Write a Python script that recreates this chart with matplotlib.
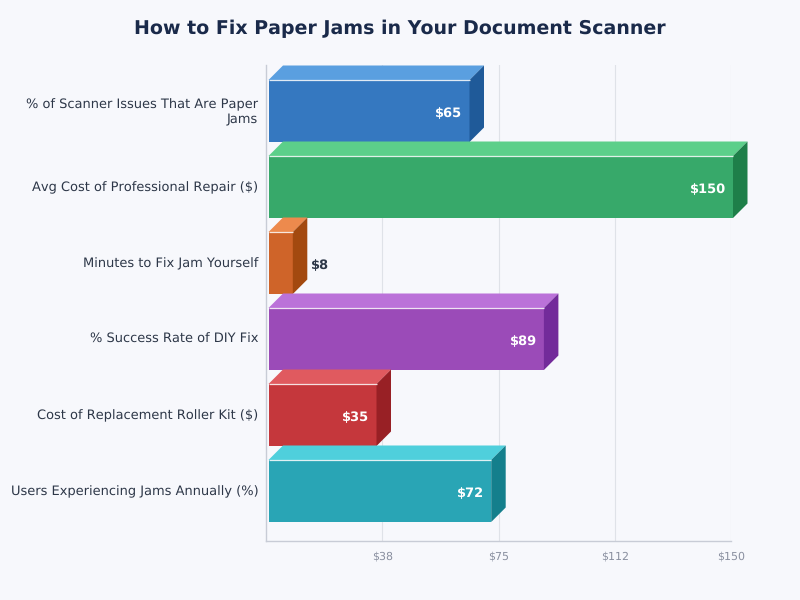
import matplotlib
matplotlib.use("Agg")
import matplotlib.pyplot as plt
from matplotlib.patches import Polygon
from matplotlib.transforms import ScaledTranslation

plt.rcParams["text.hinting"] = "no_hinting"
plt.rcParams["text.hinting_factor"] = 1

categories = [
    "% of Scanner Issues That Are Paper\nJams",
    "Avg Cost of Professional Repair ($)",
    "Minutes to Fix Jam Yourself",
    "% Success Rate of DIY Fix",
    "Cost of Replacement Roller Kit ($)",
    "Users Experiencing Jams Annually (%)",
]
values = [65, 150, 8, 89, 35, 72]
front_colors = ["#3578c0", "#37a96a", "#cf6429", "#9b4bb8", "#c5373c", "#29a5b5"]
top_colors = ["#5a9fe0", "#5ccf8a", "#ed8a4d", "#bb72d9", "#e05a5f", "#4fcfdc"]
side_colors = ["#1f5a99", "#1e7f49", "#a3490f", "#732b9a", "#982025", "#147f8c"]
xticks = [37.5, 75, 112.5, 150]
xticklabels = ["$38", "$75", "$112", "$150"]

bg = "#f7f8fc"
W, H = 800, 600
left, right, top, bottom = 266, 731, 65, 541

fig = plt.figure(figsize=(8, 6), dpi=100, facecolor=bg)
ax = fig.add_axes([left / W, 1 - bottom / H, (right - left) / W, (bottom - top) / H])
ax.set_facecolor(bg)

# scales: 3.1 px per unit on x, 76 px per category on y
px_x = 150 / (right - left)
px_y = 1 / 76
ax.set_xlim(0, 150)
ax.set_ylim((bottom - 111) * px_y, (top - 111) * px_y)

half = 31 * px_y
dx = 14.5 * px_x
dy = 14.5 * px_y
x0 = 2.5 * px_x
xoff = 2 * px_x

for i, v in enumerate(values):
    x1 = xoff + v
    y_top = i - half
    y_bot = i + half
    ax.add_patch(Polygon([(x0, y_top), (x1, y_top), (x1, y_bot), (x0, y_bot)],
                         fc=front_colors[i], ec="none", zorder=3, clip_on=False))
    ax.add_patch(Polygon([(x0, y_top), (x0 + dx, y_top - dy), (x1 + dx, y_top - dy), (x1, y_top)],
                         fc=top_colors[i], ec="none", zorder=3, clip_on=False))
    ax.add_patch(Polygon([(x1, y_top), (x1 + dx, y_top - dy), (x1 + dx, y_bot - dy), (x1, y_bot)],
                         fc=side_colors[i], ec="none", zorder=3, clip_on=False))
    ax.plot([x0, x1], [y_top, y_top], color="white", lw=0.9, alpha=0.85, zorder=4,
            solid_capstyle="butt", clip_on=False)
    if v > 15:
        ax.text(x1 - 7 * px_x, i + 3 * px_y, "$%d" % v, color="white", fontsize=9.5,
                fontweight="bold", ha="right", va="center", zorder=5)
    else:
        ax.text(x1 + dx + 4 * px_x, i + 3 * px_y, "$%d" % v, color="#2d3748", fontsize=9.5,
                fontweight="bold", ha="left", va="center", zorder=5)

for s in ["top", "right"]:
    ax.spines[s].set_visible(False)
for s in ["left", "bottom"]:
    ax.spines[s].set_color("#c8ccd6")
    ax.spines[s].set_linewidth(1)

ax.set_xticks(xticks)
ax.set_xticklabels(xticklabels, fontsize=8, color="#8a90a0")
ax.tick_params(axis="x", length=0, pad=7)
ax.set_yticks(range(len(categories)))
ax.set_yticklabels(categories, fontsize=9.3, color="#2d3748")
ax.tick_params(axis="y", length=0, pad=5.5)
# y labels sit a little above the bar centre
up = ScaledTranslation(0, 1 / 100, fig.dpi_scale_trans)
for lab in ax.get_yticklabels():
    lab.set_transform(lab.get_transform() + up)
ax.grid(axis="x", color="#dfe2e8", lw=0.8, zorder=0)
ax.set_axisbelow(True)

fig.text(0.5, 1 - 29 / H, "How to Fix Paper Jams in Your Document Scanner", fontsize=13.6,
         fontweight="bold", color="#1a2a4a", ha="center", va="center")

fig.savefig("out.png", dpi=100, facecolor=bg)
